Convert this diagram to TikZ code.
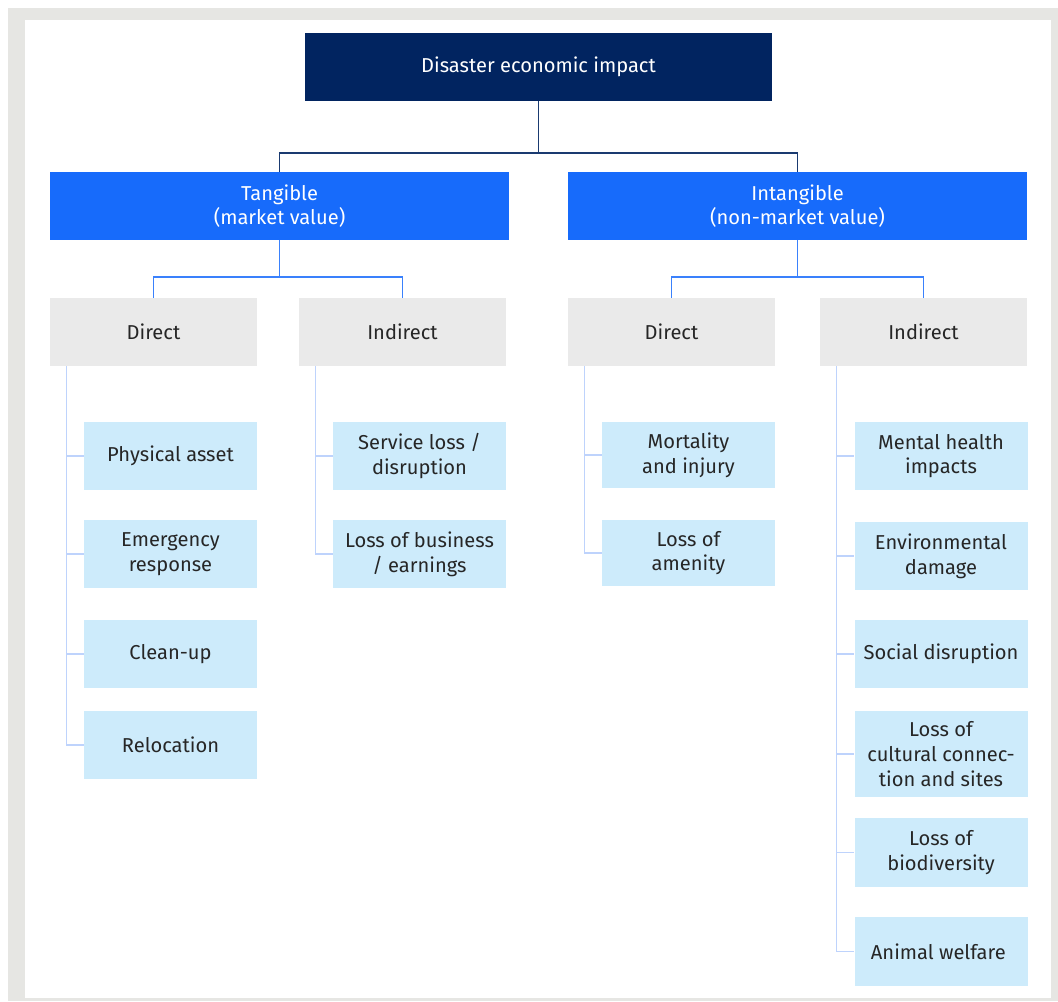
\documentclass[tikz,border=0pt]{standalone}
\usepackage{fontspec}
\setmainfont{Fira Sans}
\usetikzlibrary{positioning}
\definecolor{navy}{HTML}{012460}
\definecolor{brightblue}{HTML}{176BFB}
\definecolor{palegray}{HTML}{EAEAEA}
\definecolor{paleblue}{HTML}{CDEBFB}
\definecolor{framegray}{HTML}{E6E6E3}
\newdimen\unitpx
\unitpx=0.025cm

\begin{document}
\begin{tikzpicture}[x=0.025cm, y=-0.025cm,
  nodes = {font=\fontsize{14.3}{17.5}\selectfont, inner sep=0pt, align=center},
  rootbox/.style = {fill=navy, text=white, minimum width=467\unitpx, minimum height=68\unitpx},
  kindbox/.style = {fill=brightblue, text=white, minimum width=459\unitpx, minimum height=68\unitpx},
  sortbox/.style = {fill=palegray, text=black!85, minimum width=207\unitpx, minimum height=68\unitpx},
  leafbox/.style = {fill=paleblue, text=black!85, minimum width=173\unitpx},
  navyline/.style = {draw=navy!90, line width=1.4pt},
  blueline/.style = {draw=brightblue!85, line width=1.4pt},
  spine/.style = {draw=paleblue!85!blue!80!white, line width=1pt}]
\useasboundingbox (0,0) rectangle (1058,1001);
\fill[framegray] (8,8) rectangle (1058,1001);
\fill[white] (25,20) rectangle (1051,998);

% top levels
\node[rootbox] (root) at (538.5,67) {Disaster economic impact};
\node[kindbox] (tang) at (279.5,206) {Tangible\\(market value)};
\node[kindbox] (intang) at (797.5,206) {Intangible\\(non-market value)};
\node[sortbox] (tdir) at (153.5,332) {Direct};
\node[sortbox] (tind) at (402.5,332) {Indirect};
\node[sortbox] (idir) at (671.5,332) {Direct};
\node[sortbox] (iind) at (923.5,332) {Indirect};

\draw[navyline] (root.south) -- ++(0,52) -| (tang.north);
\draw[navyline] (root.south) -- ++(0,52) -| (intang.north);
\draw[blueline] (tang.south) -- ++(0,37) -| (tdir.north);
\draw[blueline] (tang.south) -- ++(0,37) -| (tind.north);
\draw[blueline] (intang.south) -- ++(0,37) -| (idir.north);
\draw[blueline] (intang.south) -- ++(0,37) -| (iind.north);

% leaves: parent / x / name / y / height / text
\foreach \parent/\x/\name/\y/\h/\txt in {
  tdir/170.5/pa/456/68/{Physical asset},
  tdir/170.5/er/554/68/{Emergency\\response},
  tdir/170.5/cu/654/68/{Clean-up},
  tdir/170.5/rl/745/68/{Relocation},
  tind/419.5/sl/456/68/{Service loss /\\disruption},
  tind/419.5/lb/554/68/{Loss of business\\/ earnings},
  idir/688.5/mi/455/66/{Mortality\\and injury},
  idir/688.5/la/553/66/{Loss of\\amenity},
  iind/941/mh/456/68/{Mental health\\impacts},
  iind/941/ed/556/68/{Environmental\\damage},
  iind/941/sd/654/68/{Social disruption},
  iind/941/lc/754/86/{Loss of\\cultural connec-\\tion and sites},
  iind/941/bd/852.5/69/{Loss of\\biodiversity},
  iind/941/aw/951.5/69/{Animal welfare}
} {
  \node[leafbox, minimum height=\h\unitpx] (\name) at (\x,\y) {\txt};
  \draw[spine] ([xshift=17\unitpx]\parent.south west) |- (\name.west); % stub from spine
}
\end{tikzpicture}
\end{document}
